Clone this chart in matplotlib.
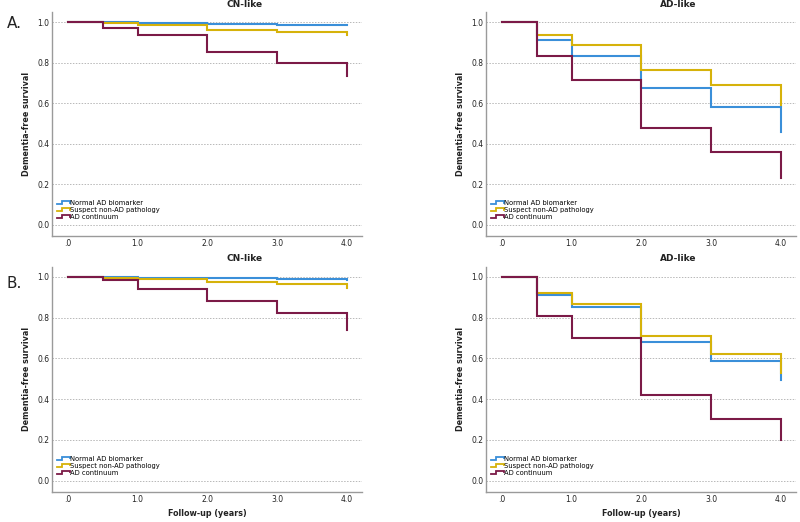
import matplotlib
matplotlib.use("Agg")
import matplotlib.pyplot as plt
from matplotlib.legend_handler import HandlerBase
from matplotlib.lines import Line2D

# -- Data ---------------------------------------------------------------------
TIMES = [0.0, 0.5, 1.0, 2.0, 3.0, 4.0]
X_TICKS = [0, 1, 2, 3, 4]
X_TICK_LABELS = [".0", "1.0", "2.0", "3.0", "4.0"]
Y_TICKS = [0.0, 0.2, 0.4, 0.6, 0.8, 1.0]
GROUPS = ["Normal AD biomarker", "Suspect non-AD pathology", "AD continuum"]

# panel A, CN-like
a_cn_normal = [1.0, 1.0, 0.997, 0.992, 0.988, 0.986]
a_cn_suspect = [1.0, 0.995, 0.988, 0.964, 0.950, 0.937]
a_cn_adc = [1.0, 0.974, 0.939, 0.855, 0.800, 0.735]
# panel A, AD-like
a_ad_normal = [1.0, 0.911, 0.836, 0.678, 0.583, 0.461]
a_ad_suspect = [1.0, 0.939, 0.886, 0.767, 0.693, 0.592]
a_ad_adc = [1.0, 0.836, 0.714, 0.479, 0.359, 0.230]
# panel B, CN-like
b_cn_normal = [1.0, 1.0, 0.997, 0.995, 0.990, 0.985]
b_cn_suspect = [1.0, 0.995, 0.989, 0.975, 0.964, 0.946]
b_cn_adc = [1.0, 0.987, 0.939, 0.880, 0.823, 0.741]
# panel B, AD-like
b_ad_normal = [1.0, 0.910, 0.852, 0.680, 0.585, 0.493]
b_ad_suspect = [1.0, 0.921, 0.869, 0.711, 0.621, 0.530]
b_ad_adc = [1.0, 0.807, 0.698, 0.420, 0.300, 0.200]

# -- Style --------------------------------------------------------------------
BLUE = "#3a8fd9"
YELLOW = "#d6b20a"
MAROON = "#7b1a47"
COLORS = [BLUE, YELLOW, MAROON]
GRID = "#b8b8b8"
SPINE = "#9a9a9a"
TEXT = "#222222"


class StepHandler(HandlerBase):
    # SPSS-like little step icon in the legend
    def create_artists(self, legend, orig_handle, xd, yd, w, h, fontsize, trans):
        xs = [xd, xd + 0.45 * w, xd + 0.45 * w, xd + w, xd + w]
        ys = [yd + 0.2 * h, yd + 0.2 * h, yd + 0.85 * h, yd + 0.85 * h, yd + 0.6 * h]
        ln = Line2D(xs, ys, color=orig_handle.get_color(), lw=1.3,
                    solid_joinstyle="miter", transform=trans)
        return [ln]


def draw_panel(ax, title, series, xlabel=False):
    handles = []
    for vals, col, name in zip(series, COLORS, GROUPS):
        h, = ax.step(TIMES, vals, where="post", color=col, lw=1.5, label=name,
                     solid_joinstyle="miter")
        handles.append(h)
    ax.set_xlim(-0.225, 4.215)
    ax.set_ylim(-0.055, 1.05)
    ax.set_xticks(X_TICKS)
    ax.set_xticklabels(X_TICK_LABELS)
    ax.set_yticks(Y_TICKS)
    ax.set_yticklabels([f"{v:.1f}" for v in Y_TICKS])
    ax.tick_params(length=0, labelsize=5.5, colors=TEXT)
    ax.tick_params(axis="x", pad=2)
    ax.tick_params(axis="y", pad=2)
    ax.yaxis.grid(True, linestyle=(0, (1.5, 1.5)), color=GRID, lw=0.7)
    ax.set_axisbelow(True)
    for s in ["top", "right"]:
        ax.spines[s].set_visible(False)
    for s in ["left", "bottom"]:
        ax.spines[s].set_color(SPINE)
        ax.spines[s].set_linewidth(1.0)
    ax.set_title(title, fontsize=6.5, fontweight="bold", color=TEXT, pad=4, x=0.62)
    ax.set_ylabel("Dementia-free survival", fontsize=5.8, fontweight="bold",
                  color=TEXT, labelpad=4.5)
    if xlabel:
        ax.set_xlabel("Follow-up (years)", fontsize=5.8, fontweight="bold",
                      color=TEXT, labelpad=4)
    ax.legend(handles=handles, loc="lower left", bbox_to_anchor=(0.015, 0.07),
              frameon=False, fontsize=4.9, labelspacing=0.15, handlelength=1.9,
              handletextpad=0.1, borderpad=0, borderaxespad=0,
              handler_map={Line2D: StepHandler()})


fig = plt.figure(figsize=(8.0, 5.22), dpi=100)
fig.patch.set_facecolor("white")

ax1 = fig.add_axes([0.065, 0.5477, 0.3875, 0.429])
ax2 = fig.add_axes([0.6075, 0.5477, 0.3875, 0.429])
ax3 = fig.add_axes([0.065, 0.058, 0.3875, 0.431])
ax4 = fig.add_axes([0.6075, 0.058, 0.3875, 0.431])

draw_panel(ax1, "CN-like", [a_cn_normal, a_cn_suspect, a_cn_adc])
draw_panel(ax2, "AD-like", [a_ad_normal, a_ad_suspect, a_ad_adc])
draw_panel(ax3, "CN-like", [b_cn_normal, b_cn_suspect, b_cn_adc], xlabel=True)
draw_panel(ax4, "AD-like", [b_ad_normal, b_ad_suspect, b_ad_adc], xlabel=True)

fig.text(0.008, 0.955, "A.", fontsize=11, color=TEXT, ha="left", va="center")
fig.text(0.008, 0.457, "B.", fontsize=11, color=TEXT, ha="left", va="center")

fig.savefig("out.png", dpi=100, facecolor="white")
